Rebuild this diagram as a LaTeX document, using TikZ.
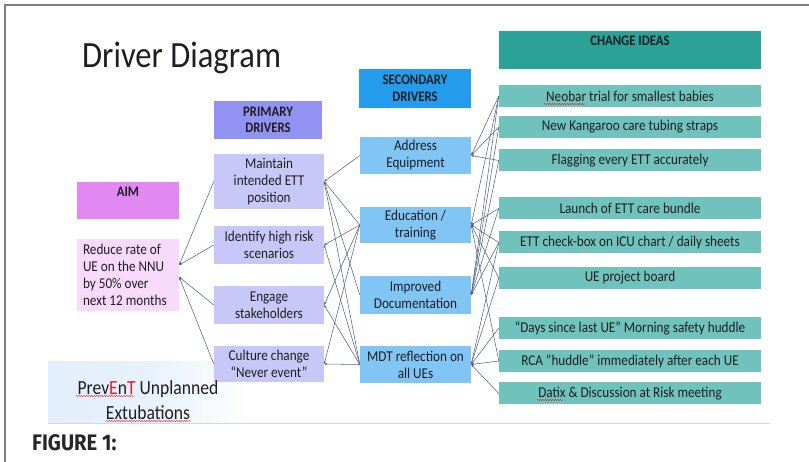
\documentclass[tikz,border=0pt]{standalone}
\usepackage{fontspec}
\setmainfont{Carlito}[FakeStretch=0.88]
\newfontfamily\figfont{Fira Sans}[FakeStretch=0.9]
\usepackage{tikz}
\usetikzlibrary{positioning,arrows.meta,decorations.pathmorphing}
\definecolor{ddAimHead}{RGB}{226,136,242}
\definecolor{ddAimFill}{RGB}{248,218,252}
\definecolor{ddPriHead}{RGB}{146,146,242}
\definecolor{ddPriFill}{RGB}{200,200,248}
\definecolor{ddSecHead}{RGB}{36,156,238}
\definecolor{ddSecFill}{RGB}{128,197,244}
\definecolor{ddChgHead}{RGB}{42,162,152}
\definecolor{ddChgFill}{RGB}{112,194,188}
\definecolor{ddLine}{RGB}{85,100,130}
\definecolor{ddText}{RGB}{30,30,35}
\definecolor{ddRed}{RGB}{222,32,32}
\definecolor{ddWash}{RGB}{226,238,251}
\definecolor{ddFrame}{RGB}{125,125,125}

\begin{document}
\begin{tikzpicture}[
  x=1pt, y=-1pt,
  font=\fontsize{15}{17}\selectfont, text=ddText,
  box/.style={inner sep=1pt, align=center},
  head/.style={box, font=\fontsize{14.5}{16.5}\selectfont\bfseries},
  idea/.style={box, fill=ddChgFill, minimum width=262pt, minimum height=22pt},
  pri/.style={box, fill=ddPriFill, minimum width=110pt},
  sec/.style={box, fill=ddSecFill, minimum width=111pt},
  link/.style={draw=ddLine, line width=0.55pt, -{Stealth[length=3pt,width=2.4pt]}},
  typo/.style={draw=ddRed, line width=0.4pt, decorate, decoration={snake, amplitude=0.6pt, segment length=2.5pt}},
]
\useasboundingbox (0,0) rectangle (809,462);
% frame and slide
\draw[ddFrame, line width=1.2pt] (5,462) -- (5,5) -- (809,5);
\shade[left color=ddWash, right color=white, middle color=ddWash!80] (48,362) rectangle (250,422);
\draw[black!15, line width=0.8pt] (48,423) -- (770,423);
\node[font=\fontsize{37}{40}\selectfont, anchor=base west, inner sep=0pt] (title) at (82,68) {Driver Diagram};

% aim
\node[head, fill=ddAimHead, minimum width=102pt, minimum height=37pt, inner ysep=5pt, text height=10pt, text depth=17pt] (aimHead) at (128,200.5) {AIM};
\node[box, fill=ddAimFill, align=flush left, text width=90pt, inner xsep=6pt, minimum height=72pt] (aim) at (128,275)
  {Reduce rate of\\UE on the NNU\\by 50\% over\\next 12 months};

% primary drivers
\node[head, fill=ddPriHead, minimum width=108pt, minimum height=38pt] (priHead) at (268,120) {PRIMARY\\DRIVERS};
\node[pri, minimum height=55pt] (maintain) at (269,181.5) {Maintain\\intended ETT\\position};
\node[pri, minimum height=38pt] (identify) at (269,245) {Identify high risk\\scenarios};
\node[pri, minimum height=38pt] (engage) at (269,305) {Engage\\stakeholders};
\node[pri, minimum height=36pt] (culture) at (269,364) {Culture change\\``Never event''};

% secondary drivers
\node[head, fill=ddSecHead, minimum width=112pt, minimum height=39pt] (secHead) at (415,88.5) {SECONDARY\\DRIVERS};
\node[sec, minimum height=37pt] (equip) at (415.5,155.5) {Address\\Equipment};
\node[sec, minimum height=36pt] (edu) at (415.5,225) {Education /\\training};
\node[sec, minimum height=38pt] (doc) at (415.5,295) {Improved\\Documentation};
\node[sec, minimum height=37pt] (mdt) at (415.5,364.5) {MDT reflection on\\all UEs};

% change ideas
\node[head, fill=ddChgHead, minimum width=262pt, minimum height=38pt, inner ysep=5pt, text height=10pt, text depth=18pt] (chgHead) at (630,50) {CHANGE IDEAS};
\node[idea] (neobar) at (630,96) {Neobar trial for smallest babies};
\node[idea] (kanga) at (630,127) {New Kangaroo care tubing straps};
\node[idea] (flag) at (630,160.5) {Flagging every ETT accurately};
\node[idea] (bundle) at (630,208.5) {Launch of ETT care bundle};
\node[idea] (check) at (630,242.5) {ETT check-box on ICU chart / daily sheets};
\node[idea] (board) at (630,278) {UE project board};
\node[idea] (days) at (630,328) {``Days since last UE'' Morning safety huddle};
\node[idea] (rca) at (630,361) {RCA "huddle" immediately after each UE};
\node[idea] (datix) at (630,393.5) {Datix \& Discussion at Risk meeting};

% connectors
\draw[link] (maintain.west) -- ([yshift=10pt]aim.east);
\draw[link] (identify.west) -- ([yshift=10pt]aim.east);
\draw[link] (engage.west) -- ([yshift=-2pt]aim.east);
\draw[link] (culture.west) -- ([yshift=-2pt]aim.east);
\foreach \a/\b in {equip/maintain, edu/maintain, doc/maintain, mdt/maintain, edu/identify, mdt/identify,
                   edu/engage, mdt/engage, edu/culture, mdt/culture}
  \draw[link] (\a.west) -- (\b.east);
\foreach \a/\b in {neobar/equip, kanga/equip, flag/equip, bundle/edu, check/edu, board/edu, rca/edu, neobar/edu,
                   neobar/doc, kanga/doc, flag/doc, bundle/doc, check/doc,
                   days/mdt, rca/mdt, datix/mdt, board/mdt, check/mdt}
  \draw[link] (\a.west) -- (\b.east);

% footer texts
\node[font=\fontsize{20}{25}\selectfont, align=center, inner sep=0pt] (brand) at (148,400)
  {Prev{\color{ddRed}E}n{\color{ddRed}T} Unplanned\\Extubations};
\node[font=\fontsize{22.5}{24}\selectfont\bfseries\sffamily, anchor=base west, inner sep=0pt, text=black!85] (figLabel) at (32,450) {\figfont FIGURE 1:};

% spell-check marks
\draw[typo] (544,104) -- (585,104);
\draw[typo] (537,400) -- (563,400);
\draw[typo] (76,396) -- (134,396);
\draw[typo] (106,421) -- (191,421);
\end{tikzpicture}
\end{document}
